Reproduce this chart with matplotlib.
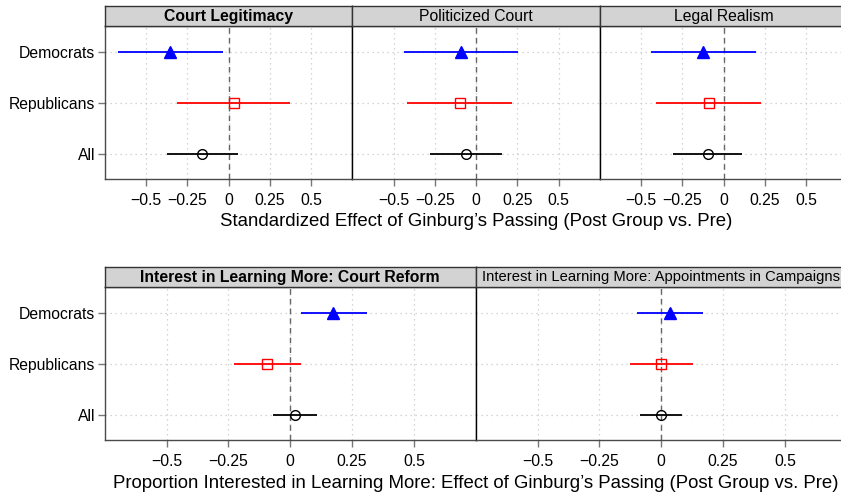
import matplotlib
matplotlib.use("Agg")
import matplotlib.pyplot as plt
import numpy as np

plt.rcParams['font.family'] = ['Liberation Sans', 'DejaVu Sans']

groups = ["Democrats", "Republicans", "All"]

top_titles = ["Court Legitimacy", "Politicized Court", "Legal Realism"]
top_est = [[-0.352, 0.033, -0.160],
           [-0.091, -0.099, -0.059],
           [-0.123, -0.091, -0.097]]
top_lo = [[-0.672, -0.310, -0.374],
          [-0.434, -0.416, -0.281],
          [-0.438, -0.410, -0.305]]
top_hi = [[-0.034, 0.375, 0.059],
          [0.252, 0.218, 0.159],
          [0.194, 0.227, 0.111]]

bot_titles = ["Interest in Learning More: Court Reform",
              "Interest in Learning More: Appointments in Campaigns"]
bot_est = [[0.174, -0.093, 0.019],
           [0.036, 0.001, 0.000]]
bot_lo = [[0.042, -0.227, -0.070],
          [-0.096, -0.126, -0.084]]
bot_hi = [[0.309, 0.042, 0.109],
          [0.170, 0.128, 0.085]]

xticks = [-0.5, -0.25, 0, 0.25, 0.5]
xticklabels = ["\u22120.5", "\u22120.25", "0", "0.25", "0.5"]

top_xlabel = "Standardized Effect of Ginburg\u2019s Passing (Post Group vs. Pre)"
bot_xlabel = "Proportion Interested in Learning More: Effect of Ginburg\u2019s Passing (Post Group vs. Pre)"

colors = ["#0000FF", "#FF0000", "#000000"]
markers = ["^", "s", "o"]
fills = [True, False, False]
msizes = [8.5, 7.0, 7.0]

W, H = 841, 497
fig = plt.figure(figsize=(W / 100, H / 100), dpi=100)

FS = 11.3
frame_col = "#4a4a4a"


def px_axes(x0, y0, x1, y1):
    return fig.add_axes([x0 / W, 1 - y1 / H, (x1 - x0) / W, (y1 - y0) / H])


def draw_panel(ax, est, lo, hi, show_y):
    ypos = [1, 2, 3]
    ax.set_xlim(-0.75, 0.75)
    ax.set_ylim(3.5, 0.5)
    for t in xticks:
        ax.axvline(t, color="#c8c8c8", lw=0.9, ls=(0, (1, 3)), zorder=0)
    for y in ypos:
        ax.axhline(y, color="#c8c8c8", lw=0.9, ls=(0, (1, 3)), zorder=0)
    ax.axvline(0, color="#666666", lw=1.0, ls=(0, (4, 3)), zorder=1)
    for i, y in enumerate(ypos):
        ax.hlines(y, lo[i], hi[i], color=colors[i], lw=1.3, zorder=2)
        ax.plot([est[i]], [y], marker=markers[i], ms=msizes[i],
                mfc=colors[i] if fills[i] else "none", mec=colors[i],
                mew=1.0, ls="none", zorder=3)
    ax.set_xticks(xticks)
    ax.set_xticklabels(xticklabels, fontsize=FS)
    ax.set_yticks(ypos)
    ax.tick_params(axis="both", direction="out", length=5, width=1,
                   color="#777777")
    ax.tick_params(axis="x", pad=5)
    ax.tick_params(axis="y", pad=2)
    if show_y:
        ax.set_yticklabels(groups, fontsize=FS)
    else:
        ax.set_yticklabels([])
        ax.tick_params(axis="y", length=0)
    for s in ax.spines.values():
        s.set_color(frame_col)
        s.set_linewidth(1.0)


def draw_strip(ax, title, bold, fs):
    ax.set_facecolor("#d3d3d3")
    ax.set_xticks([])
    ax.set_yticks([])
    for s in ax.spines.values():
        s.set_color("#333333")
        s.set_linewidth(1.0)
    ax.text(0.5, 0.47, title, ha="center", va="center", fontsize=fs,
            fontweight="bold" if bold else "normal", transform=ax.transAxes)


# Top row
top_x = [104.7, 352.3, 599.9, 847.5]
for k in range(3):
    ax = px_axes(top_x[k], 26.3, top_x[k + 1], 179.3)
    draw_panel(ax, top_est[k], top_lo[k], top_hi[k], k == 0)
    if k > 0:
        ax.spines["left"].set_color("black")
    sax = px_axes(top_x[k], 6.0, top_x[k + 1], 26.3)
    draw_strip(sax, top_titles[k], k == 0, FS)

fig.text(476 / W, 1 - 222 / H, top_xlabel, ha="center", va="center", fontsize=13.4)

# Bottom row
bot_x = [104.7, 475.7, 846.7]
for k in range(2):
    ax = px_axes(bot_x[k], 287.0, bot_x[k + 1], 440.0)
    draw_panel(ax, bot_est[k], bot_lo[k], bot_hi[k], k == 0)
    if k > 0:
        ax.spines["left"].set_color("black")
    sax = px_axes(bot_x[k], 266.7, bot_x[k + 1], 287.0)
    draw_strip(sax, bot_titles[k], k == 0, FS if k == 0 else 10.6)

fig.text(475.7 / W, 1 - 483.3 / H, bot_xlabel, ha="center", va="center", fontsize=13.4)

fig.savefig("out.png", dpi=100)
